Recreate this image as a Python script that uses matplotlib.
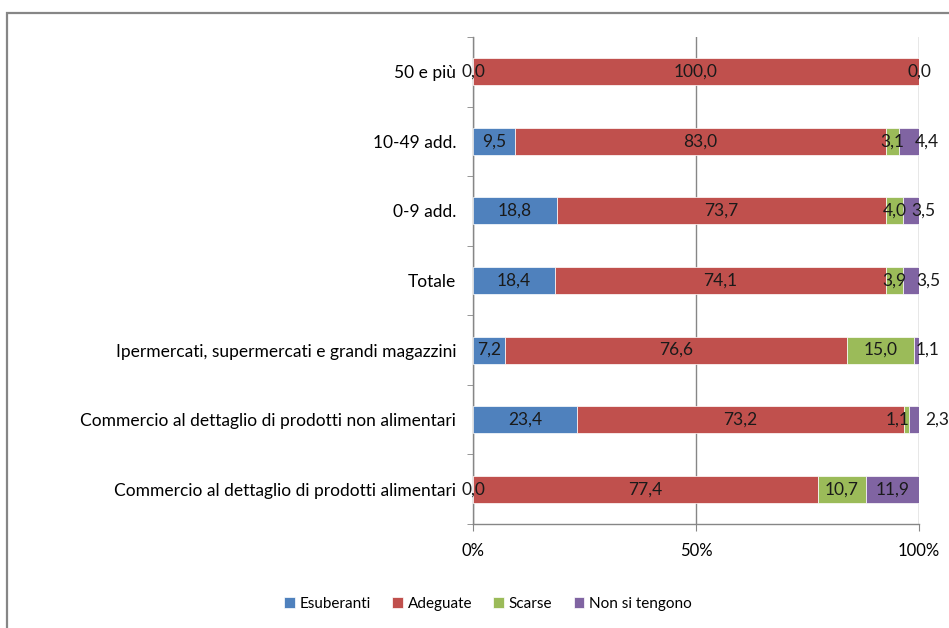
import matplotlib
matplotlib.use("Agg")
import matplotlib.pyplot as plt
from matplotlib.patches import Rectangle
from matplotlib.ticker import FixedLocator
import numpy as np

plt.rcParams['font.family'] = ['Lato', 'DejaVu Sans']

# =========================
# Data
# =========================

categories = [
    "Commercio al dettaglio di prodotti alimentari",
    "Commercio al dettaglio di prodotti non alimentari",
    "Ipermercati, supermercati e grandi magazzini",
    "Totale",
    "0-9 add.",
    "10-49 add.",
    "50 e più",
]

esuberanti = [0.0, 23.4, 7.2, 18.4, 18.8, 9.5, 0.0]
adeguate = [77.4, 73.2, 76.6, 74.1, 73.7, 83.0, 100.0]
scarse = [10.7, 1.1, 15.0, 3.9, 4.0, 3.1, 0.0]
non_si_tengono = [11.9, 2.3, 1.1, 3.5, 3.5, 4.4, None]

series_names = ["Esuberanti", "Adeguate", "Scarse", "Non si tengono"]
colors = ["#4F81BD", "#C0504D", "#9BBB59", "#8064A2"]

x_ticks = [0, 50, 100]
x_tick_labels = ["0%", "50%", "100%"]

# labels of small segments were nudged by hand in the original (points)
label_shift = {
    (2, 1): -6.5,
    (3, 1): 17, (3, 2): 8, (3, 3): 13, (3, 4): 9, (3, 5): 13,
}

# =========================
# Figure
# =========================

fig = plt.figure(figsize=(9.49, 6.28), dpi=100)
ax = fig.add_axes([473 / 949, 1 - 524 / 628, 446 / 949, 487 / 628])

y = np.arange(len(categories))
left = np.zeros(len(categories))
all_series = [esuberanti, adeguate, scarse, non_si_tengono]

for s, (vals, name, col) in enumerate(zip(all_series, series_names, colors)):
    widths = np.array([v if v is not None else 0.0 for v in vals])
    ax.barh(y, widths, left=left, height=0.39, color=col, label=name,
            edgecolor="white", linewidth=0.5, zorder=3)
    for i, v in enumerate(vals):
        if v is None:
            continue
        cx = left[i] + widths[i] / 2
        dx = label_shift.get((s, i), 0)
        ax.annotate(f"{v:.1f}".replace(".", ","), (cx, y[i]),
                    xytext=(dx, 0), textcoords="offset points",
                    ha="center", va="center", fontsize=12.5,
                    color="#1a1a1a", zorder=5)
    left = left + widths

# =========================
# Axes styling
# =========================

ax.set_xlim(0, 100)
ax.set_ylim(-0.5, len(categories) - 0.5)

ax.set_xticks(x_ticks)
ax.set_xticklabels(x_tick_labels, fontsize=12)
ax.set_yticks(y)
ax.set_yticklabels(categories, fontsize=12.5)
ax.yaxis.set_minor_locator(FixedLocator(np.arange(-0.5, len(categories), 1)))

ax.tick_params(axis="y", which="major", length=0, pad=12)
ax.tick_params(axis="y", which="minor", length=4, color="#868686", direction="out")
ax.tick_params(axis="x", length=5, color="#868686", pad=9, direction="out")

for side in ["top", "right"]:
    ax.spines[side].set_visible(False)
for side in ["left", "bottom"]:
    ax.spines[side].set_color("#868686")
    ax.spines[side].set_linewidth(1.0)

ax.xaxis.grid(True, color="#868686", linewidth=1.0, zorder=0)
ax.set_axisbelow(True)

# =========================
# Legend
# =========================

handles, labels = ax.get_legend_handles_labels()
fig.legend(handles, labels, loc="center", bbox_to_anchor=(488 / 949, 1 - 604 / 628),
           ncol=4, frameon=False, fontsize=11, handlelength=0.7,
           handleheight=0.7, handletextpad=0.3, columnspacing=1.4)

# =========================
# Outer frame
# =========================

fig.patches.append(Rectangle((7 / 949, -0.1), 1.2, 1 - 13 / 628 + 0.1,
                             transform=fig.transFigure, fill=False,
                             edgecolor="#868686", linewidth=1.6))

fig.savefig("out.png", dpi=100)
